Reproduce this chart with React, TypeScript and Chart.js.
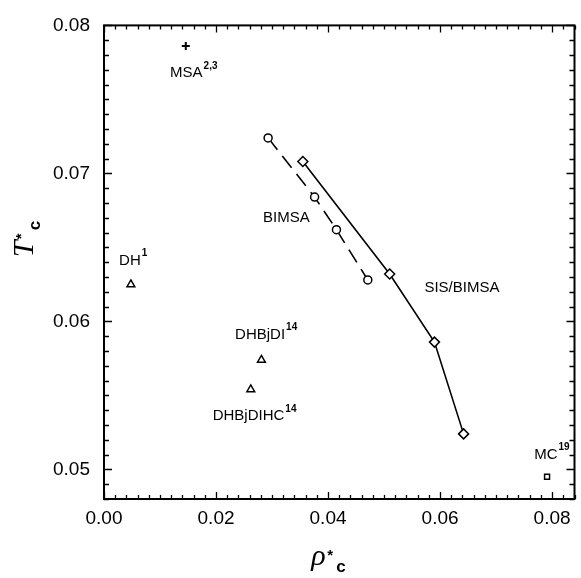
import React, { useEffect, useRef } from "react";
import { Chart, registerables } from "chart.js";

Chart.register(...registerables);

// ---- data ----
const bimsaX = [0.0293, 0.0376, 0.0415, 0.0471];
const bimsaY = [0.0724, 0.0684, 0.0662, 0.0628];
const sisX = [0.0355, 0.051, 0.059, 0.0642];
const sisY = [0.0708, 0.0632, 0.0586, 0.0524];
const msaPoint = [0.0146, 0.0786];
const dhPoint = [0.0048, 0.0625];
const dhbjdiPoint = [0.0281, 0.0574];
const dhbjdihcPoint = [0.0262, 0.0554];
const mcPoint = [0.0791, 0.0495];

const xTickValues = [0, 0.02, 0.04, 0.06, 0.08];
const yTickValues = [0.05, 0.06, 0.07, 0.08];
const xRange = [0, 0.084];
const yRange = [0.048, 0.08];

// annotation labels: [text, superscript, x, y]
const labelTexts = ["MSA", "BIMSA", "SIS/BIMSA", "DH", "DHBjDI", "DHBjDIHC", "MC"];
const labelSups = ["2,3", "", "", "1", "14", "14", "19"];
const labelX = [0.0118, 0.0284, 0.0572, 0.0027, 0.0234, 0.0194, 0.0768];
const labelY = [0.0768, 0.067, 0.0623, 0.0641, 0.0591, 0.0536, 0.051];

const SANS = '"Liberation Sans", Arial, sans-serif';
const SERIF = '"Liberation Serif", "DejaVu Serif", serif';

const decorPlugin = {
  id: "decor",
  afterDraw(chart: any) {
    const { ctx, chartArea: a, scales } = chart;
    const x = scales.x;
    const y = scales.y;
    ctx.save();
    ctx.strokeStyle = "#000";
    ctx.lineWidth = 1.3;
    // x ticks (bottom & top)
    const nx = Math.round((xRange[1] - xRange[0]) / 0.002);
    for (let i = 0; i <= nx; i++) {
      const v = xRange[0] + i * 0.002;
      const px = Math.round(x.getPixelForValue(v)) + 0.5;
      const major = i % 10 === 0;
      const len = major ? 7 : 4;
      ctx.beginPath();
      ctx.moveTo(px, a.bottom);
      ctx.lineTo(px, a.bottom - len);
      ctx.moveTo(px, a.top);
      ctx.lineTo(px, a.top + len);
      ctx.stroke();
    }
    const ny = Math.round((yRange[1] - yRange[0]) / 0.001);
    for (let i = 0; i <= ny; i++) {
      const v = yRange[0] + i * 0.001;
      const py = Math.round(y.getPixelForValue(v)) + 0.5;
      const major = Math.abs(v * 100 - Math.round(v * 100)) < 1e-6;
      const len = major ? 8 : 5;
      ctx.beginPath();
      ctx.moveTo(a.left, py);
      ctx.lineTo(a.left + len, py);
      ctx.moveTo(a.right, py);
      ctx.lineTo(a.right - len, py);
      ctx.stroke();
    }
    // frame
    ctx.lineWidth = 2;
    ctx.strokeRect(a.left, a.top, a.right - a.left, a.bottom - a.top);

    // annotations
    ctx.fillStyle = "#000";
    ctx.textBaseline = "middle";
    ctx.textAlign = "left";
    for (let i = 0; i < labelTexts.length; i++) {
      const px = x.getPixelForValue(labelX[i]);
      const py = y.getPixelForValue(labelY[i]);
      ctx.font = `15px ${SANS}`;
      ctx.fillText(labelTexts[i], px, py);
      if (labelSups[i]) {
        const w = ctx.measureText(labelTexts[i]).width;
        ctx.font = `bold 10px ${SANS}`;
        ctx.fillText(labelSups[i], px + w + 1, py - 7);
      }
    }

    // x title: rho*_c
    ctx.textBaseline = "alphabetic";
    const cx = (a.left + a.right) / 2;
    ctx.font = `italic 30px ${SERIF}`;
    ctx.fillText("\u03C1", cx - 28, a.bottom + 66);
    ctx.font = `bold 15px ${SANS}`;
    ctx.fillText("*", cx - 12, a.bottom + 61);
    ctx.font = `bold 17px ${SANS}`;
    ctx.fillText("c", cx - 3, a.bottom + 73);

    // y title: T*_c rotated
    ctx.save();
    ctx.translate(33, (a.top + a.bottom) / 2 - 5);
    ctx.rotate(-Math.PI / 2);
    ctx.font = `italic 30px ${SERIF}`;
    ctx.fillText("T", 0, 0);
    ctx.font = `bold 15px ${SANS}`;
    ctx.fillText("*", 18, -7);
    ctx.font = `bold 17px ${SANS}`;
    ctx.fillText("c", 27, 7);
    ctx.restore();

    ctx.restore();
  },
};

function pts(xs: number[], ys: number[]) {
  return xs.map((v, i) => ({ x: v, y: ys[i] }));
}

export default function App() {
  const ref = useRef<HTMLCanvasElement>(null);
  useEffect(() => {
    document.body.style.margin = "0";
    const marker = {
      pointBackgroundColor: "#fff",
      pointBorderColor: "#000",
      pointBorderWidth: 1.5,
      showLine: false,
    };
    const chart = new Chart(ref.current!, {
      type: "scatter",
      data: {
        datasets: [
          {
            label: "BIMSA",
            data: pts(bimsaX, bimsaY),
            showLine: true,
            borderColor: "#000",
            borderWidth: 1.6,
            borderDash: [15, 8],
            pointStyle: "circle",
            pointRadius: 4,
            pointBackgroundColor: "#fff",
            pointBorderColor: "#000",
            pointBorderWidth: 1.5,
          },
          {
            label: "SIS/BIMSA",
            data: pts(sisX, sisY),
            showLine: true,
            borderColor: "#000",
            borderWidth: 1.6,
            pointStyle: "rectRot",
            pointRadius: 5,
            pointBackgroundColor: "#fff",
            pointBorderColor: "#000",
            pointBorderWidth: 1.5,
          },
          {
            label: "MSA",
            data: [{ x: msaPoint[0], y: msaPoint[1] }],
            pointStyle: "cross",
            pointRadius: 4,
            pointBorderColor: "#000",
            pointBorderWidth: 2,
            showLine: false,
          },
          {
            label: "DH",
            data: [
              { x: dhPoint[0], y: dhPoint[1] },
              { x: dhbjdiPoint[0], y: dhbjdiPoint[1] },
              { x: dhbjdihcPoint[0], y: dhbjdihcPoint[1] },
            ],
            pointStyle: "triangle",
            pointRadius: 4.5,
            ...marker,
          },
          {
            label: "MC",
            data: [{ x: mcPoint[0], y: mcPoint[1] }],
            pointStyle: "rect",
            pointRadius: 3.5,
            ...marker,
          },
        ],
      },
      options: {
        animation: false,
        responsive: false,
        maintainAspectRatio: false,
        layout: { padding: { top: 22, right: 6, left: 0, bottom: 0 } },
        plugins: { legend: { display: false }, tooltip: { enabled: false } },
        scales: {
          x: {
            type: "linear",
            min: xRange[0],
            max: xRange[1],
            grid: { display: false, drawTicks: false },
            border: { display: false },
            ticks: {
              color: "#000",
              font: { family: SANS, size: 19 },
              padding: 8,
              callback: (v: any) => Number(v).toFixed(2),
            },
            afterBuildTicks: (s: any) => {
              s.ticks = xTickValues.map((v) => ({ value: v }));
            },
            afterFit: (s: any) => {
              s.height = 79;
            },
          },
          y: {
            type: "linear",
            min: yRange[0],
            max: yRange[1],
            grid: { display: false, drawTicks: false },
            border: { display: false },
            ticks: {
              color: "#000",
              font: { family: SANS, size: 19 },
              padding: 14,
              callback: (v: any) => Number(v).toFixed(2),
            },
            afterBuildTicks: (s: any) => {
              s.ticks = yTickValues.map((v) => ({ value: v }));
            },
            afterFit: (s: any) => {
              s.width = 104;
            },
          },
        },
      } as any,
      plugins: [decorPlugin],
    });
    return () => chart.destroy();
  }, []);
  return (
    <div style={{ width: 581, height: 578 }}>
      <canvas ref={ref} width={581} height={578} style={{ display: "block" }} />
    </div>
  );
}
